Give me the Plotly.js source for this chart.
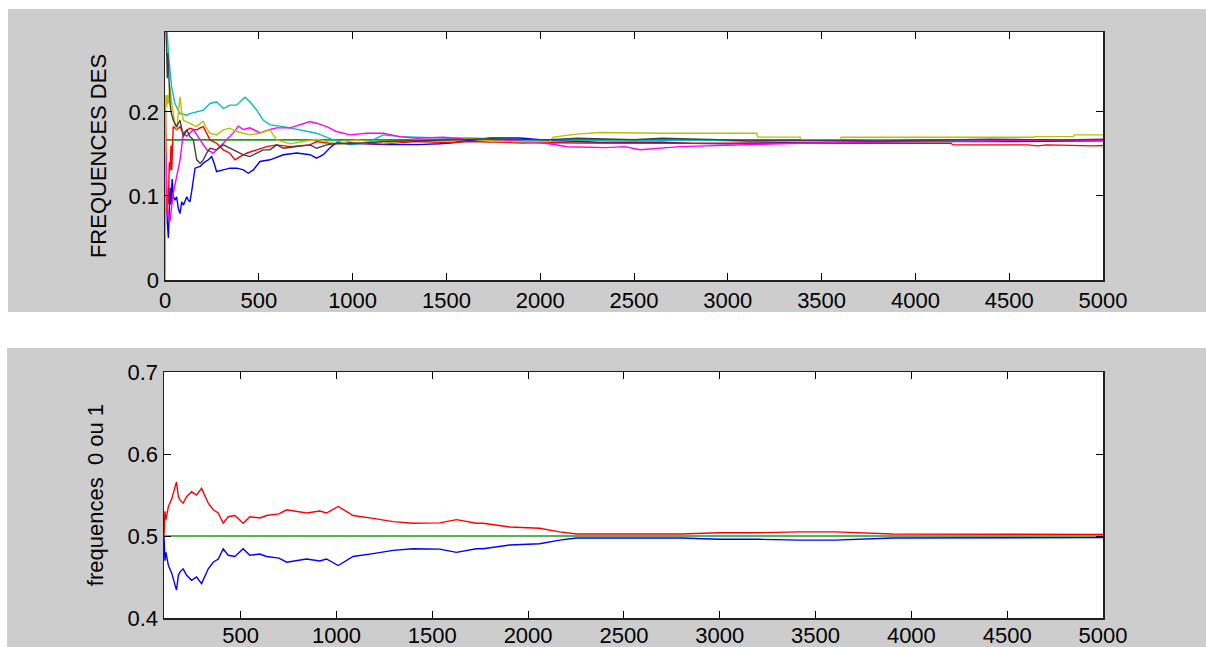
<!DOCTYPE html>
<html>
<head>
<meta charset="utf-8">
<script src="https://cdn.plot.ly/plotly-3.0.1.min.js"></script>
<style>
  html, body { margin:0; padding:0; background:#ffffff; width:1206px; height:647px; overflow:hidden; }
  #top { position:absolute; left:8px; top:9px; width:1198px; height:303px; }
  #bottom { position:absolute; left:7px; top:348px; width:1199px; height:299px; }
</style>
</head>
<body>
<div id="top"></div>
<div id="bottom"></div>
<script>
// ---------- Top chart: dice face frequencies (pairs [throw number, frequency]) ----------
const dieBlue = [[3,0.15],[8,0.10],[12,0.07],[18,0.05],[22,0.07],[27,0.11],[32,0.09],[38,0.12],[44,0.10],[53,0.095],[62,0.099],[71,0.085],[80,0.079],[89,0.093],[98,0.089],[107,0.095],[116,0.099],[124,0.095],[133,0.093],[142,0.105],[151,0.123],[160,0.133],[187,0.135],[204,0.139],[231,0.143],[249,0.147],[260,0.140],[275,0.129],[311,0.131],[346,0.133],[382,0.133],[418,0.131],[444,0.127],[471,0.131],[506,0.141],[560,0.143],[631,0.149],[702,0.151],[773,0.149],[808,0.145],[844,0.149],[888,0.159],[915,0.163],[986,0.163],[1164,0.161],[1342,0.161],[1466,0.162],[1519,0.163],[1626,0.166],[1732,0.169],[1892,0.169],[2050,0.166],[2200,0.165],[2319,0.1635],[2461,0.1635],[2650,0.164],[2800,0.1625],[3000,0.162],[3200,0.163],[3400,0.1635],[3600,0.164],[3971,0.1647],[4504,0.1647],[4800,0.1655],[5000,0.1655]];
const dieRed = [[3,0.20],[6,0.12],[9,0.08],[14,0.10],[18,0.09],[23,0.14],[27,0.13],[32,0.16],[36,0.131],[44,0.1825],[62,0.1786],[80,0.1825],[98,0.1746],[116,0.178],[133,0.1806],[151,0.179],[169,0.1786],[187,0.181],[204,0.1825],[222,0.1746],[240,0.1667],[275,0.1627],[311,0.1548],[346,0.1508],[373,0.1429],[400,0.1468],[435,0.1508],[489,0.1548],[542,0.1587],[595,0.1607],[666,0.1587],[773,0.1607],[808,0.1647],[897,0.1619],[986,0.1627],[1164,0.1619],[1342,0.1647],[1519,0.1635],[1626,0.1647],[1900,0.163],[2050,0.1635],[2200,0.163],[2500,0.1625],[2650,0.163],[2800,0.1627],[3100,0.1627],[3400,0.1627],[3800,0.1625],[4190,0.1627],[4200,0.1607],[4600,0.1607],[4650,0.1595],[4700,0.1607],[4950,0.1595],[5000,0.1600]];
const dieCyan = [[2,0.31],[10,0.30],[18,0.27],[27,0.25],[35,0.23],[44,0.22],[53,0.21],[62,0.206],[80,0.198],[98,0.197],[116,0.196],[133,0.198],[151,0.199],[169,0.200],[204,0.202],[240,0.210],[275,0.212],[311,0.204],[346,0.208],[382,0.208],[400,0.212],[426,0.2175],[453,0.212],[489,0.202],[524,0.190],[560,0.1845],[631,0.1825],[720,0.1786],[808,0.1746],[897,0.1667],[986,0.1607],[1075,0.163],[1164,0.1726],[1252,0.1706],[1342,0.170],[1519,0.1687],[1626,0.169],[1750,0.168],[1900,0.1667],[2050,0.167],[2200,0.166],[2350,0.1655],[2500,0.165],[2650,0.166],[2800,0.1667],[2950,0.166],[3100,0.165],[3250,0.1655],[3400,0.166],[3600,0.167],[3800,0.167],[4000,0.166],[4200,0.1655],[4400,0.166],[4600,0.1667],[4800,0.167],[5000,0.1667]];
const dieMagenta = [[5,0.151],[12,0.09],[18,0.075],[27,0.07],[35,0.087],[44,0.103],[62,0.123],[80,0.143],[98,0.175],[116,0.171],[151,0.179],[187,0.167],[222,0.155],[258,0.151],[293,0.159],[329,0.167],[364,0.175],[391,0.183],[418,0.179],[453,0.181],[506,0.175],[560,0.179],[595,0.181],[666,0.181],[720,0.1845],[773,0.1885],[808,0.1865],[862,0.1825],[915,0.1766],[986,0.1726],[1075,0.1746],[1164,0.1746],[1252,0.1706],[1342,0.1687],[1483,0.1698],[1626,0.1675],[1750,0.1675],[1900,0.1645],[2050,0.162],[2141,0.1585],[2350,0.1575],[2450,0.1587],[2532,0.155],[2745,0.1587],[3030,0.1607],[3385,0.1627],[3740,0.164],[4200,0.1655],[4600,0.166],[5000,0.166]];
const dieYellow = [[0,0],[2,0],[3,0.20],[5,0.22],[9,0.206],[14,0.22],[18,0.21],[27,0.23],[36,0.21],[44,0.198],[53,0.185],[62,0.1786],[71,0.20],[80,0.218],[89,0.20],[98,0.19],[116,0.188],[133,0.1865],[151,0.184],[169,0.1825],[187,0.186],[204,0.1885],[222,0.18],[240,0.1746],[275,0.1726],[311,0.1786],[346,0.1806],[382,0.1766],[418,0.1746],[453,0.1726],[506,0.1746],[560,0.1786],[595,0.1667],[666,0.1619],[737,0.1647],[808,0.1675],[915,0.1619],[1022,0.1667],[1164,0.1627],[1342,0.1667],[1519,0.165],[1626,0.1687],[1750,0.1647],[2050,0.1647],[2070,0.170],[2194,0.1735],[2319,0.1754],[2656,0.1746],[3154,0.1746],[3160,0.170],[3385,0.170],[3390,0.1667],[3598,0.1667],[3605,0.1698],[4629,0.1698],[4635,0.1706],[4842,0.1706],[4848,0.1726],[5000,0.1726]];
const dieGray = [[1,0.31],[5,0.30],[8,0.28],[12,0.24],[15,0.27],[18,0.25],[22,0.22],[27,0.21],[32,0.20],[36,0.195],[44,0.19],[62,0.1825],[80,0.19],[98,0.1706],[116,0.1786],[133,0.1706],[151,0.1667],[169,0.1429],[187,0.1389],[204,0.1429],[222,0.1508],[240,0.1567],[275,0.1548],[311,0.1607],[346,0.1567],[382,0.1528],[418,0.1488],[453,0.1468],[489,0.1508],[524,0.1548],[560,0.1548],[595,0.1607],[631,0.1567],[720,0.1587],[773,0.1607],[808,0.1567],[862,0.1607],[915,0.1627],[986,0.1619],[1164,0.1647],[1342,0.1659],[1519,0.1667],[1750,0.168],[1900,0.167],[2050,0.167],[2200,0.1687],[2350,0.168],[2500,0.167],[2650,0.1687],[2800,0.168],[2950,0.167],[3100,0.1655],[3250,0.166],[3400,0.166],[3600,0.166],[3800,0.1655],[4000,0.166],[4200,0.1667],[4400,0.1675],[4600,0.167],[4800,0.1667],[5000,0.1675]];
const dieExpectedX = [0, 5000];
const dieExpectedY = [0.1667, 0.1667];
const topXTicks = [0,500,1000,1500,2000,2500,3000,3500,4000,4500,5000];
const topYTicks = [0, 0.1, 0.2];
const topYTitle = 'FREQUENCES DES';

// ---------- Bottom chart: coin frequencies ----------
const coinX = [100,101,105,110,123,140,157,165,175,183,200,218,244,270,296,331,357,383,409,435,470,513,548,600,635,700,740,800,844,913,948,1009,1050,1087,1191,1296,1400,1539,1626,1730,1765,1904,2060,2165,2252,2400,2600,2800,2995,3200,3416,3600,3901,4200,4500,4800,5000];
const coinOne = [0.50,0.5235,0.53,0.52,0.536,0.545,0.560,0.566,0.548,0.544,0.540,0.548,0.554,0.550,0.558,0.540,0.532,0.528,0.5155,0.5235,0.525,0.5155,0.5235,0.522,0.525,0.527,0.532,0.530,0.528,0.5305,0.528,0.536,0.530,0.525,0.5215,0.5175,0.5155,0.516,0.520,0.5155,0.5155,0.511,0.5095,0.505,0.5024,0.5024,0.5024,0.5024,0.504,0.504,0.505,0.505,0.5024,0.5024,0.5024,0.5024,0.502];
const coinZero = [0.50,0.4765,0.47,0.48,0.464,0.455,0.440,0.434,0.452,0.456,0.460,0.452,0.446,0.450,0.442,0.460,0.468,0.472,0.4845,0.4765,0.475,0.4845,0.4765,0.478,0.475,0.473,0.468,0.470,0.472,0.4695,0.472,0.464,0.470,0.475,0.4785,0.4825,0.4845,0.484,0.480,0.4845,0.4845,0.489,0.4905,0.495,0.4976,0.4976,0.4976,0.4976,0.496,0.496,0.495,0.495,0.4976,0.4976,0.4976,0.4976,0.498];
const coinExpectedX = [100, 5000];
const coinExpectedY = [0.5, 0.5];
const bottomXTicks = [500,1000,1500,2000,2500,3000,3500,4000,4500,5000];
const bottomYTicks = [0.4, 0.5, 0.6, 0.7];
const bottomYTitle = 'frequences  0 ou 1';

// ---------- Drawing ----------
const FONT = '"Liberation Sans", Arial, Helvetica, sans-serif';
function pairTrace(pairs, color) {
  return { x: pairs.map(p => p[0]), y: pairs.map(p => p[1]), type: 'scatter', mode: 'lines',
           line: { color: color, width: 1.4 }, hoverinfo: 'skip' };
}
function axisBase(extra) {
  return Object.assign({
    ticks: 'inside', ticklen: 7, tickwidth: 1, tickcolor: '#000',
    mirror: 'allticks', showline: true, linecolor: '#202020', linewidth: 1.5,
    showgrid: false, zeroline: false, fixedrange: true,
    tickfont: { family: FONT, size: 22, color: '#000' }
  }, extra);
}

const topTraces = [
  { x: dieExpectedX, y: dieExpectedY, type: 'scatter', mode: 'lines', line: { color: '#1f9a1f', width: 1.6 }, hoverinfo: 'skip' },
  pairTrace(dieBlue, '#0000ff'),
  pairTrace(dieRed, '#ff0000'),
  pairTrace(dieCyan, '#00bfbf'),
  pairTrace(dieMagenta, '#ff00ff'),
  pairTrace(dieYellow, '#bfbf00'),
  pairTrace(dieGray, '#404040')
];
const topLayout = {
  width: 1198, height: 303,
  margin: { l: 157, r: 103, t: 23, b: 32 },
  paper_bgcolor: '#cdcdcd', plot_bgcolor: '#ffffff',
  showlegend: false,
  font: { family: FONT, size: 22, color: '#000' },
  xaxis: axisBase({ range: [0, 5000], tickvals: topXTicks, ticktext: topXTicks.map(String) }),
  yaxis: axisBase({ range: [0, 0.295], tickvals: topYTicks, ticktext: topYTicks.map(String),
                    title: { text: topYTitle, font: { family: FONT, size: 22, color: '#000' }, standoff: 16 } })
};

const bottomTraces = [
  { x: coinExpectedX, y: coinExpectedY, type: 'scatter', mode: 'lines', line: { color: '#1f9a1f', width: 1.6 }, hoverinfo: 'skip' },
  { x: coinX, y: coinOne, type: 'scatter', mode: 'lines', line: { color: '#ff0000', width: 1.4 }, hoverinfo: 'skip' },
  { x: coinX, y: coinZero, type: 'scatter', mode: 'lines', line: { color: '#0000ff', width: 1.4 }, hoverinfo: 'skip' }
];
const bottomLayout = {
  width: 1199, height: 299,
  margin: { l: 157, r: 103, t: 24, b: 29 },
  paper_bgcolor: '#cdcdcd', plot_bgcolor: '#ffffff',
  showlegend: false,
  font: { family: FONT, size: 22, color: '#000' },
  xaxis: axisBase({ range: [100, 5000], tickvals: bottomXTicks, ticktext: bottomXTicks.map(String), ticklabelstandoff: -3 }),
  yaxis: axisBase({ range: [0.4, 0.7], tickvals: bottomYTicks, ticktext: bottomYTicks.map(String),
                    title: { text: bottomYTitle, font: { family: FONT, size: 22, color: '#000' }, standoff: 18 } })
};

const cfg = { displayModeBar: false, staticPlot: true };
Plotly.newPlot('top', topTraces, topLayout, cfg);
Plotly.newPlot('bottom', bottomTraces, bottomLayout, cfg);
</script>
</body>
</html>
